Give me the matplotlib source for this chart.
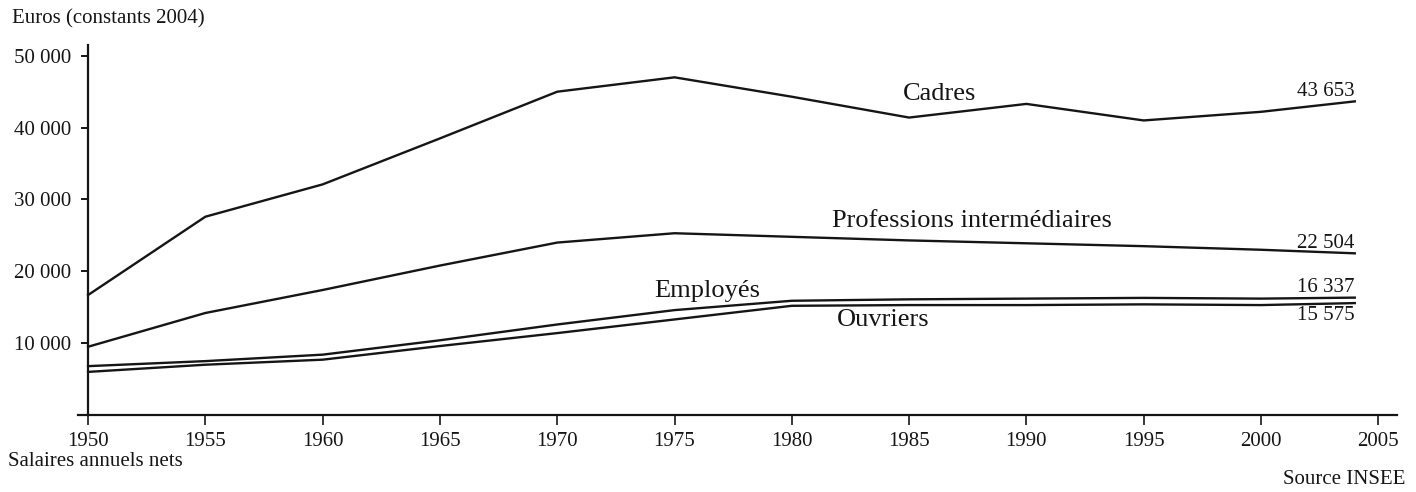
import matplotlib
matplotlib.use("Agg")
import matplotlib.pyplot as plt

years = [1950, 1955, 1960, 1965, 1970, 1975, 1980, 1985, 1990, 1995, 2000, 2004]
cadres = [16700, 27600, 32100, 38500, 45000, 47000, 44300, 41400, 43300, 41000, 42200, 43653]
prof_inter = [9500, 14200, 17400, 20800, 24000, 25300, 24800, 24300, 23900, 23500, 23000, 22504]
employes = [6800, 7500, 8400, 10400, 12600, 14600, 15900, 16100, 16200, 16300, 16200, 16337]
ouvriers = [6000, 7000, 7700, 9600, 11400, 13300, 15200, 15300, 15300, 15400, 15300, 15575]

series_names = ["Cadres", "Professions intermédiaires", "Employés", "Ouvriers"]
end_labels = ["43 653", "22 504", "16 337", "15 575"]
ytick_vals = [10000, 20000, 30000, 40000, 50000]
ytick_labels = ["10 000", "20 000", "30 000", "40 000", "50 000"]
xtick_vals = [1950, 1955, 1960, 1965, 1970, 1975, 1980, 1985, 1990, 1995, 2000, 2005]

plt.rcParams['font.family'] = ['Liberation Serif', 'DejaVu Serif']
ink = '#151515'

fig = plt.figure(figsize=(14.16, 4.92), dpi=100)
ax = fig.add_axes([78/1416, 77/492, 1319/1416, 370/492])

for vals in (cadres, prof_inter, employes, ouvriers):
    ax.plot(years, vals, color=ink, lw=1.7, solid_joinstyle='miter')

ax.set_xlim(1949.57, 2005.8)
ax.set_ylim(0, 51500)

ax.spines['top'].set_visible(False)
ax.spines['right'].set_visible(False)
ax.spines['left'].set_position(('data', 1950))
for s in ('left', 'bottom'):
    ax.spines[s].set_color(ink)
    ax.spines[s].set_linewidth(1.6)

ax.set_yticks(ytick_vals)
ax.set_yticklabels(ytick_labels)
ax.set_xticks(xtick_vals)
ax.set_xticklabels([str(v) for v in xtick_vals])
ax.tick_params(axis='y', direction='out', length=5, width=1.4, pad=7, labelsize=15, colors=ink)
ax.tick_params(axis='x', direction='out', length=7.5, width=1.2, pad=5, labelsize=15, colors=ink)

# category labels
ax.text(1986.3, 44670, series_names[0], ha='center', va='center', fontsize=19, color=ink)
ax.text(1987.7, 27000, series_names[1], ha='center', va='center', fontsize=19, color=ink)
ax.text(1976.4, 17300, series_names[2], ha='center', va='center', fontsize=19, color=ink)
ax.text(1983.9, 13240, series_names[3], ha='center', va='center', fontsize=19, color=ink)

# end value labels
ends = [cadres[-1], prof_inter[-1], employes[-1], ouvriers[-1]]
offs = [(0, 0.5), (0, 0.5), (0, 0.5), (0, -2)]
vas = ['bottom', 'bottom', 'bottom', 'top']
for lab, v, off, va in zip(end_labels, ends, offs, vas):
    ax.annotate(lab, xy=(years[-1], v), xytext=off, textcoords='offset points',
                ha='right', va=va, fontsize=15, color=ink)

fig.text(12/1416, 1 - 19/492, "Euros (constants 2004)", ha='left', va='center', fontsize=15, color=ink)
fig.text(8/1416, 1 - 462/492, "Salaires annuels nets", ha='left', va='center', fontsize=15, color=ink)
fig.text(1405/1416, 1 - 480/492, "Source INSEE", ha='right', va='center', fontsize=15, color=ink)

fig.savefig("out.png", dpi=100)
